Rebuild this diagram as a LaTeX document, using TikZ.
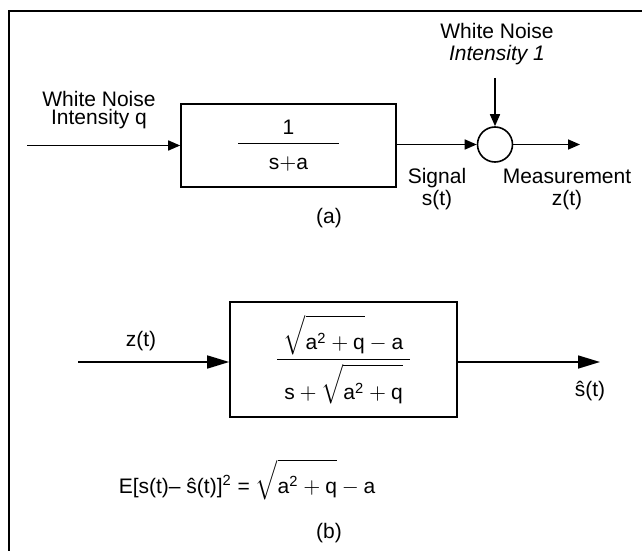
\documentclass[tikz,border=0pt]{standalone}
\usepackage{amsmath}
\usepackage{fontspec}
\setmainfont{Liberation Sans}
\usetikzlibrary{arrows.meta, positioning}

\begin{document}
\begin{tikzpicture}[x=0.5pt, y=-0.5pt, line width=0.8pt, font=\fontsize{10.5}{11}\selectfont]
    % Styles
    \tikzstyle{block} = [rectangle, draw, inner sep=0pt]
    \tikzstyle{junction} = [circle, draw, minimum size=17.5pt, inner sep=0pt]
    \tikzstyle{tag} = [align=center, inner sep=0pt]
    \tikzstyle{arrowA} = [-{Triangle[length=6pt,width=5pt]}]
    \tikzstyle{arrowB} = [-{Triangle[length=11pt,width=6.5pt]}]

    \useasboundingbox (0,0) rectangle (642,551);

    % Frame
    \draw [line width=1pt] (642,11) -- (9,11) -- (9,551);

    % (a) Signal and measurement model
    \node (Plant) [block, minimum width=107.5pt, minimum height=41.5pt] at (288.5,145.5)
        {$\genfrac{}{}{0.6pt}{0}{\makebox[50.5pt]{1}}{\rule{0pt}{11pt}\mathrm{s{+}a}}$};
    \node (Sum) [junction] at (495,144.5) {};
    \coordinate (qIn) at (27,145.5);
    \coordinate (vIn) at (495,78);
    \coordinate (zOut) at (580,144.5);

    \node (qLbl) [tag, font=\fontsize{10.5}{9}\selectfont] at (99,110) {White Noise\\Intensity q};
    \node (vLbl) [tag] at (497,44) {White Noise\\\textit{Intensity 1}};
    \node (sLbl) [tag] at (437,189) {Signal\\s(t)};
    \node (zLbl) [tag] at (567,189) {Measurement\\z(t)};
    \node (capA) at (329,218) {(a)};

    \draw [arrowA] (qIn) -- (Plant.west);
    \draw [arrowA] (Plant.east |- Sum) -- (Sum.west);
    \draw [arrowA] (vIn) -- (Sum.north);
    \draw [arrowA] (Sum.east) -- (zOut);

    % (b) Optimal filter
    \node (Filter) [block, minimum width=113.5pt, minimum height=57.5pt] at (343.5,359.5)
        {$\genfrac{}{}{0.6pt}{0}{\makebox[66.5pt]{$\mathrm{\sqrt{\rule{0pt}{15pt}a^2+q}-a}$}}{\mathrm{s+\sqrt{\rule{0pt}{16.5pt}a^2+q}}}$};
    \coordinate (zIn) at (78,362);
    \coordinate (sOut) at (600,362);

    \node (zLbl2) [tag] at (141,341) {z(t)};
    \node (sHat) [tag] at (590,391) {ŝ(t)};
    \node (mse) [anchor=base west, inner sep=0pt] at (118,493)
        {E[s(t)– ŝ(t)]\textsuperscript{2} = $\mathrm{\sqrt{\rule{0pt}{14pt}a^2+q}-a}$};
    \node (capB) at (329,533) {(b)};

    \draw [arrowB] (zIn) -- (Filter.west |- zIn);
    \draw [arrowB] (Filter.east |- sOut) -- (sOut);

\end{tikzpicture}
\end{document}
